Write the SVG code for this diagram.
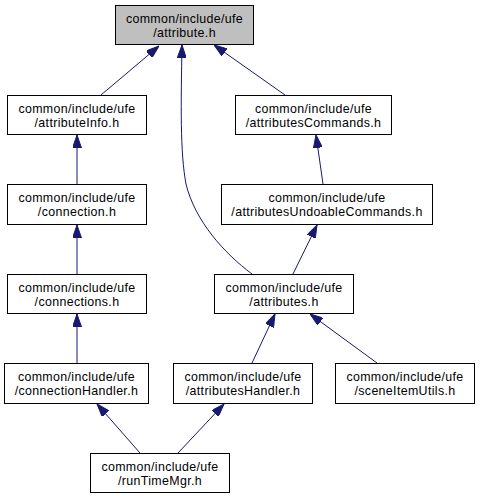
<svg xmlns="http://www.w3.org/2000/svg" width="480" height="499" viewBox="0 0 480 499">
<style>
.node rect{fill:#ffffff;stroke:#000000;stroke-width:1}
#n1 rect{fill:#bfbfbf}
.node text{font-family:"Liberation Sans",Arial,sans-serif;font-size:12.4px;letter-spacing:0.35px;fill:#000000;text-anchor:middle}
.edge{fill:none;stroke:#191970;stroke-width:1;marker-end:url(#arr)}
</style>
<defs>
<marker id="arr" markerUnits="userSpaceOnUse" viewBox="0 0 13 9" refX="13" refY="4.5" markerWidth="13" markerHeight="9" orient="auto">
<path d="M0,0 L13,4.5 L0,9 z" fill="#191970" stroke="#191970" stroke-width="1"/>
</marker>
</defs>
<rect width="480" height="499" fill="#ffffff"/>
<g id="edges">
<path class="edge" d="M101,95 L159,46"/>
<path class="edge" d="M252,274 C224,253 195,221 186,184 C180,152 181,104 182,45"/>
<path class="edge" d="M285,95 L214,45"/>
<path class="edge" d="M77,184 L77,135"/>
<path class="edge" d="M323,184 L316,135"/>
<path class="edge" d="M77,274 L77,225"/>
<path class="edge" d="M293,274 L317,225"/>
<path class="edge" d="M77,363 L77,314"/>
<path class="edge" d="M252,363 L275,314"/>
<path class="edge" d="M377,363 L310,314"/>
<path class="edge" d="M140,453 L97,404"/>
<path class="edge" d="M178,453 L224,404"/>
</g>
<g id="n1" class="node"><rect x="115.5" y="5.5" width="138" height="39"/><text x="184.5" y="22.5">common/include/ufe</text><text x="184.5" y="36.5">/attribute.h</text></g>
<g id="n2" class="node"><rect x="7.5" y="95.5" width="139" height="39"/><text x="77" y="112.5">common/include/ufe</text><text x="77" y="126.5">/attributeInfo.h</text></g>
<g id="n3" class="node"><rect x="235.5" y="95.5" width="156" height="39"/><text x="313.5" y="112.5">common/include/ufe</text><text x="313.5" y="126.5">/attributesCommands.h</text></g>
<g id="n4" class="node"><rect x="7.5" y="184.5" width="139" height="40"/><text x="77" y="202">common/include/ufe</text><text x="77" y="216">/connection.h</text></g>
<g id="n5" class="node"><rect x="221.5" y="184.5" width="211" height="40"/><text x="327" y="202">common/include/ufe</text><text x="327" y="216">/attributesUndoableCommands.h</text></g>
<g id="n6" class="node"><rect x="7.5" y="274.5" width="139" height="39"/><text x="77" y="291.5">common/include/ufe</text><text x="77" y="305.5">/connections.h</text></g>
<g id="n7" class="node"><rect x="214.5" y="274.5" width="139" height="39"/><text x="284" y="291.5">common/include/ufe</text><text x="284" y="305.5">/attributes.h</text></g>
<g id="n8" class="node"><rect x="4.5" y="363.5" width="144" height="40"/><text x="76.5" y="381">common/include/ufe</text><text x="76.5" y="395">/connectionHandler.h</text></g>
<g id="n9" class="node"><rect x="173.5" y="363.5" width="139" height="40"/><text x="243" y="381">common/include/ufe</text><text x="243" y="395">/attributesHandler.h</text></g>
<g id="n10" class="node"><rect x="335.5" y="363.5" width="139" height="40"/><text x="405" y="381">common/include/ufe</text><text x="405" y="395">/sceneItemUtils.h</text></g>
<g id="n11" class="node"><rect x="90.5" y="453.5" width="139" height="39"/><text x="160" y="470.5">common/include/ufe</text><text x="160" y="484.5">/runTimeMgr.h</text></g>
</svg>
